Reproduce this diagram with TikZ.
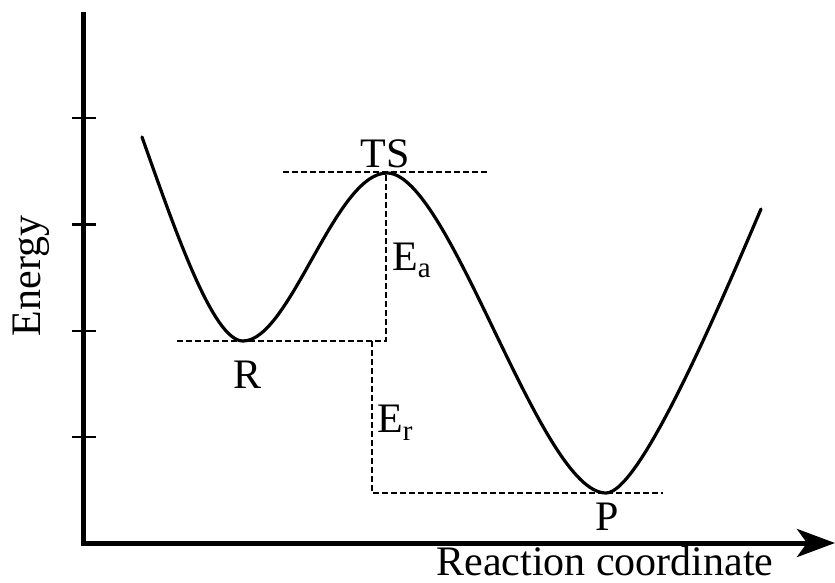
\documentclass[tikz,border=0pt]{standalone}
\usepackage{fontspec}
\setmainfont{Liberation Serif}
\usetikzlibrary{arrows.meta}
\newcommand{\lowsub}[2]{\raisebox{-#1}{\fontsize{29}{29}\selectfont #2}}
\begin{document}
\begin{tikzpicture}[x=1pt,y=-1pt,
  axisline/.style={line width=5pt},
  tickline/.style={line width=2.3pt},
  curveline/.style={line width=3.2pt, line cap=round},
  guide/.style={line width=1.2pt, dash pattern=on 6pt off 3pt},
  lbl/.style={inner sep=0pt, font=\fontsize{42}{50}\selectfont}]
\useasboundingbox (0,0) rectangle (835,583);
% axes
\coordinate (ytop) at (83.5,12);
\coordinate (orig) at (83.5,543);
\coordinate (xend) at (835,543);
\draw[axisline, line join=miter, -{Stealth[length=38pt,width=28pt,inset=10pt]}] (ytop) -- (orig) -- (xend);
\foreach \yy in {118,224.5,331,437}
  \draw[tickline] (72,\yy) -- (96,\yy);
% key points
\coordinate (S) at (142,137);
\coordinate (R) at (243,341);
\coordinate (TS) at (387,173);
\coordinate (P) at (606,493);
\coordinate (E) at (761,209);
% energy curve
\draw[curveline] (S) .. controls (175,230) and (213,341) .. (R)
  .. controls (290,341) and (335,173) .. (TS)
  .. controls (450,173) and (540,493) .. (P)
  .. controls (640,493) and (720,305) .. (E);
% guide lines
\coordinate (tsl) at (283,172);
\coordinate (tsr) at (487,172);
\coordinate (tsd) at (386,172);
\coordinate (corner) at (386,341);
\coordinate (rl) at (177,341);
\coordinate (erTop) at (372,341);
\coordinate (erBot) at (372,493);
\coordinate (pr) at (663,493);
\draw[guide] (tsl) -- (tsr);
\draw[guide] (rl) -- (corner) -- (tsd);
\draw[guide] (erTop) -- (erBot) -- (pr);
% labels
\node[lbl, anchor=base] (tsLabel) at (385,167) {TS};
\node[lbl, anchor=base] (rLabel) at (248,388) {R};
\node[lbl, anchor=base] (pLabel) at (607,530) {P};
\node[lbl, anchor=base west] (eaLabel) at (392,270) {E\lowsub{7pt}{a}};
\node[lbl, anchor=base west] (erLabel) at (377,432) {E\lowsub{8pt}{r}};
\node[lbl, anchor=base] (xLabel) at (605,575) {Reaction coordinate};
\node[lbl, anchor=base, rotate=90] (yLabel) at (40,276) {Energy};
\end{tikzpicture}
\end{document}
